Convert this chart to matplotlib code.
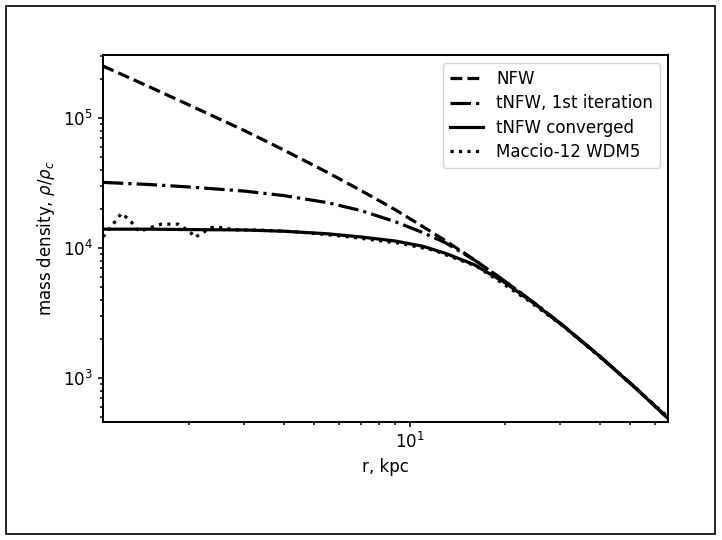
import matplotlib
matplotlib.use("Agg")
import matplotlib.pyplot as plt
from matplotlib.patches import Rectangle
from matplotlib.ticker import NullFormatter

plt.rcParams["font.size"] = 12

# Radii (kpc) at which the analytic profiles are tabulated
r_model = [1.07, 1.5, 2.0, 3.0, 4.0, 5.5, 7.0, 9.0, 11.0, 13.0, 16.0,
           20.0, 25.0, 31.0, 40.0, 52.0, 65.8]

# Densities in units of the critical density
rho_nfw = [2.53e5, 1.75e5, 1.27e5, 8.05e4, 5.70e4, 3.83e4, 2.79e4, 1.98e4,
           1.47e4, 1.14e4, 8.17e3, 5.58e3, 3.73e3, 2.47e3, 1.47e3, 836, 489]
rho_tnfw_first = [3.21e4, 3.09e4, 2.96e4, 2.75e4, 2.54e4, 2.24e4, 1.95e4,
                  1.60e4, 1.32e4, 1.10e4, 8.13e3, 5.58e3, 3.73e3, 2.47e3,
                  1.47e3, 836, 489]
rho_tnfw_conv = [1.40e4, 1.40e4, 1.39e4, 1.38e4, 1.35e4, 1.29e4, 1.22e4,
                 1.135e4, 1.035e4, 9.12e3, 7.47e3, 5.44e3, 3.70e3, 2.47e3,
                 1.47e3, 834, 488]

# Simulated WDM halo profile
r_sim = [1.072, 1.126, 1.225, 1.302, 1.366, 1.400, 1.487, 1.639, 1.851,
         1.944, 2.040, 2.091, 2.221, 2.360, 2.447, 2.602, 2.866, 3.317,
         4.503, 6.482, 9.333, 11.87, 16.32, 23.49, 30.67, 41.06, 52.36, 65.77]
rho_sim = [1.22e4, 1.42e4, 1.85e4, 1.65e4, 1.42e4, 1.34e4, 1.42e4, 1.53e4,
           1.53e4, 1.42e4, 1.30e4, 1.21e4, 1.32e4, 1.44e4, 1.46e4, 1.42e4,
           1.38e4, 1.38e4, 1.33e4, 1.22e4, 1.09e4, 9.68e3, 7.24e3, 4.03e3,
           2.50e3, 1.38e3, 822, 501]

fig = plt.figure(figsize=(7.22, 5.40), dpi=100)
ax = fig.add_axes([0.1422, 0.2180, 0.9256 - 0.1422, 0.8981 - 0.2180])

lw = 2.3
ax.plot(r_model, rho_nfw, ls="--", color="black", lw=lw, label="NFW")
ax.plot(r_model, rho_tnfw_first, ls="-.", color="black", lw=lw,
        label="tNFW, 1st iteration")
ax.plot(r_model, rho_tnfw_conv, ls="-", color="black", lw=lw,
        label="tNFW converged")
ax.plot(r_sim, rho_sim, ls=":", color="black", lw=lw,
        label="Maccio-12 WDM5")

ax.set_xscale("log")
ax.set_yscale("log")
ax.set_xlim(1.069, 65.9)
ax.set_ylim(456, 3.07e5)
ax.xaxis.set_minor_formatter(NullFormatter())

ax.set_xlabel("r, kpc")
ax.set_ylabel(r"mass density, $\rho/\rho_c$")

for s in ax.spines.values():
    s.set_linewidth(1.4)
ax.tick_params(which="both", width=1.1)

ax.legend(loc="upper right", borderaxespad=0.5, labelspacing=0.38)

# Frame around the whole figure
fig.add_artist(Rectangle((6 / 722, 6 / 540), 709 / 722, 528 / 540,
                         transform=fig.transFigure, fill=False,
                         edgecolor="black", linewidth=1.2))

fig.savefig("out.png", dpi=100)
